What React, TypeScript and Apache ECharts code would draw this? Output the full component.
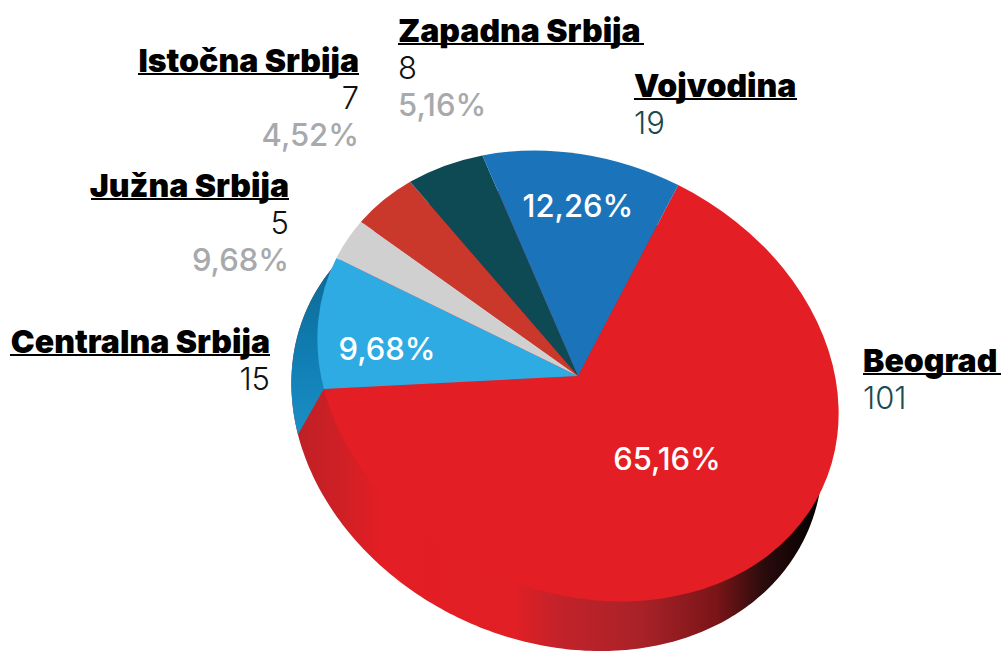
import React, { useEffect, useRef } from "react";
import * as echarts from "echarts";

const regions = ["Beograd", "Centralna Srbija", "Južna Srbija", "Istočna Srbija", "Zapadna Srbija", "Vojvodina"];
const counts = [101, 15, 5, 7, 8, 19];
const outerPercents = ["", "", "9,68%", "4,52%", "5,16%", ""];
const innerPercents = ["65,16%", "9,68%", "", "", "", "12,26%"];
const sliceColors = ["#e31e24", "#2fabe3", "#d0d0d0", "#c9382b", "#0e4a54", "#1b74ba"];

const labelLayout = [
  { x: 863, base: 371, align: "left", width: 138, countColor: "#1a4a50" },
  { x: 270, base: 352, align: "right", width: 260, countColor: "#111111" },
  { x: 289, base: 196, align: "right", width: 198, countColor: "#111111" },
  { x: 359, base: 71, align: "right", width: 221, countColor: "#111111" },
  { x: 398, base: 41, align: "left", width: 246, countColor: "#111111" },
  { x: 634, base: 96, align: "left", width: 163, countColor: "#1a4a50" },
];
const innerLayout = [
  [667, 458],
  [387, 348],
  [0, 0],
  [0, 0],
  [0, 0],
  [578, 205],
];

const TILT = (24.3 * Math.PI) / 180;
const TOP = { cx: 578, cy: 376, a: 269, b: 215.5 };
const SIDE = { cx: 557, cy: 421, a: 274, b: 220 };
const START_DEG = 2.7;
const total = counts.reduce((s, v) => s + v, 0);

const deg = (v: number) => (v / total) * 360;
const cumulative = (i: number) => START_DEG + counts.slice(0, i).reduce((s, v) => s + deg(v), 0);

function rimPoint(e: typeof TOP, fromUpDeg: number) {
  const t = (fromUpDeg * Math.PI) / 180;
  const px = e.a * Math.sin(t);
  const py = -e.b * Math.cos(t);
  return [e.cx + px * Math.cos(TILT) - py * Math.sin(TILT), e.cy + px * Math.sin(TILT) + py * Math.cos(TILT)];
}

function arcPoints(e: typeof TOP, from: number, to: number) {
  const pts: number[][] = [];
  const n = Math.max(2, Math.ceil(Math.abs(to - from)));
  for (let i = 0; i <= n; i++) pts.push(rimPoint(e, from + ((to - from) * i) / n));
  return pts;
}

const sideRed = new echarts.graphic.LinearGradient(0, 0, 1, 0, [
  { offset: 0, color: "#bd2025" },
  { offset: 0.1, color: "#d02026" },
  { offset: 0.17, color: "#e31e24" },
  { offset: 0.42, color: "#e11f25" },
  { offset: 0.5, color: "#c4222a" },
  { offset: 0.66, color: "#a82228" },
  { offset: 0.8, color: "#7a1518" },
  { offset: 0.89, color: "#2a0b0c" },
  { offset: 1, color: "#000000" },
]);
const sideBlue = new echarts.graphic.LinearGradient(0, 0, 0, 1, [
  { offset: 0, color: "#0c5f85" },
  { offset: 0.6, color: "#0f7cb0" },
  { offset: 1, color: "#1a8fc6" },
]);

export default function App() {
  const ref = useRef<HTMLDivElement>(null);
  useEffect(() => {
    document.body.style.margin = "0";
    const chart = echarts.init(ref.current!, null, { renderer: "svg" });
    const NAME_FONT = "Inter";
    const graphics: any[] = [];
    regions.forEach((name, i) => {
      const l = labelLayout[i];
      const rowStyle = (text: string, base: number, fill: string, weight: number, size: number) => ({
        type: "text",
        z: 10,
        x: l.x,
        y: base,
        style: { text, fill, font: `${weight} ${size}px ${NAME_FONT}`, align: l.align, verticalAlign: "bottom" },
      });
      graphics.push(rowStyle(name, l.base + 5, "#000000", 900, 32));
      graphics.push({
        type: "rect",
        z: 10,
        shape: { x: l.align === "left" ? l.x : l.x - l.width, y: l.base + 2, width: l.width, height: 2 },
        style: { fill: "#000000" },
      });
      graphics.push(rowStyle(String(counts[i]), l.base + 42, l.countColor, 300, 31));
      if (outerPercents[i]) graphics.push(rowStyle(outerPercents[i], l.base + 79, "#a7a9ac", 500, 31));
      if (innerPercents[i]) {
        graphics.push({
          type: "text",
          z: 10,
          x: innerLayout[i][0],
          y: innerLayout[i][1],
          style: {
            text: innerPercents[i],
            fill: "#ffffff",
            font: `500 31px ${NAME_FONT}`,
            align: "center",
            verticalAlign: "middle",
          },
        });
      }
    });

    chart.setOption({
      animation: false,
      graphic: { elements: graphics },
      series: [
        {
          type: "custom",
          coordinateSystem: "none",
          silent: true,
          z: 1,
          data: [[counts[0]]],
          renderItem: () => ({
            type: "polygon",
            shape: { points: arcPoints(SIDE, 0, 360) },
            style: { fill: sideRed },
          }),
        },
        {
          type: "custom",
          coordinateSystem: "none",
          silent: true,
          z: 2,
          data: [[counts[1]]],
          renderItem: () => {
            const from = cumulative(1);
            const to = cumulative(2) + 13;
            return {
              type: "polygon",
              shape: { points: [...arcPoints(SIDE, from, to), rimPoint(TOP, to), rimPoint(TOP, from)] },
              style: { fill: sideBlue },
            };
          },
        },
        {
          type: "custom",
          coordinateSystem: "none",
          silent: true,
          z: 3,
          data: counts.map((v) => [v]),
          renderItem: (params: any, api: any) => {
            const i = params.dataIndex;
            const span = deg(api.value(0));
            const s = cumulative(i) - 90;
            return {
              type: "sector",
              x: TOP.cx,
              y: TOP.cy,
              rotation: -TILT,
              scaleX: 1,
              scaleY: TOP.b / TOP.a,
              shape: {
                cx: 0,
                cy: 0,
                r0: 0,
                r: TOP.a,
                startAngle: (s * Math.PI) / 180,
                endAngle: ((s + span) * Math.PI) / 180,
                clockwise: true,
              },
              style: { fill: sliceColors[i] },
            };
          },
        },
      ],
    });
    return () => chart.dispose();
  }, []);
  return <div ref={ref} style={{ width: 1003, height: 651, overflow: "hidden" }} />;
}
